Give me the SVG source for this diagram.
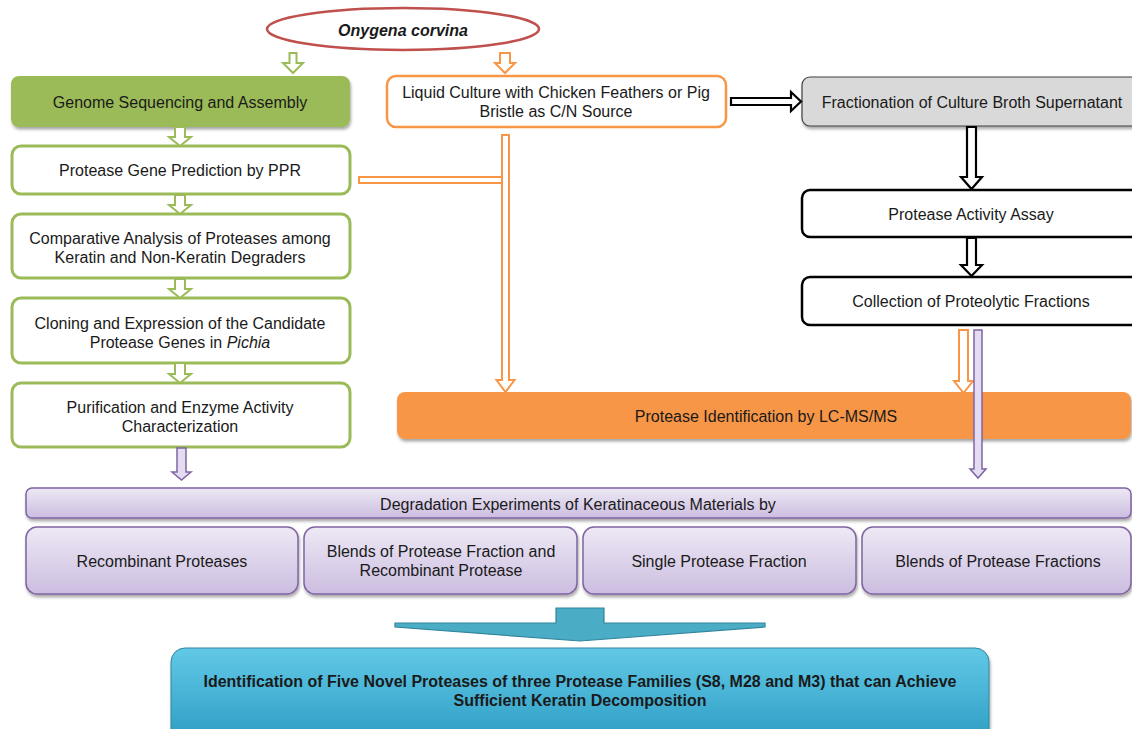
<svg xmlns="http://www.w3.org/2000/svg" width="1132" height="729" viewBox="0 0 1132 729">
<defs>
<style>
text{font-family:"Liberation Sans",Arial,sans-serif;font-size:16px;fill:#1a1a1a;text-anchor:middle;dominant-baseline:central}
.gbox{fill:#fff;stroke:#9BBB59;stroke-width:3}
.kbox{fill:#fff;stroke:#000;stroke-width:2.5}
.garr{fill:#fff;stroke:#9BBB59;stroke-width:2}
.oarr{fill:#fff;stroke:#F79646;stroke-width:2}
.karr{fill:#fff;stroke:#000;stroke-width:2.2}
.parr{fill:#E4DCF0;stroke:#8064A2;stroke-width:1.5}
.pbox{fill:url(#pg);stroke:#8064A2;stroke-width:1.5}
</style>
<filter id="sh" x="-5%" y="-20%" width="110%" height="150%">
<feDropShadow dx="1" dy="2.5" stdDeviation="1.8" flood-color="#000" flood-opacity="0.35"/>
</filter>
<linearGradient id="pg" x1="0" y1="0" x2="0" y2="1">
<stop offset="0" stop-color="#EEE9F5"/>
<stop offset="1" stop-color="#CBBDE0"/>
</linearGradient>
<linearGradient id="tg" x1="0" y1="0" x2="0" y2="1">
<stop offset="0" stop-color="#62C9E6"/>
<stop offset="1" stop-color="#2C9CC4"/>
</linearGradient>
</defs>

<g id="organism">
<ellipse cx="403" cy="29" rx="136" ry="21" fill="#fff" stroke="#C0504D" stroke-width="2.5"/>
<text x="403" y="30" font-weight="bold" font-style="italic">Onygena corvina</text>
</g>

<g id="genome">
<rect x="11" y="76" width="339" height="51" rx="8" fill="#9BBB59" filter="url(#sh)"/>
<text x="180" y="102">Genome Sequencing and Assembly</text>
</g>
<g id="ppr">
<rect x="12" y="146" width="338" height="48" rx="9" class="gbox"/>
<text x="180" y="170">Protease Gene Prediction by PPR</text>
</g>
<g id="comparative">
<rect x="12" y="214" width="338" height="64" rx="9" class="gbox"/>
<text x="180" y="238">Comparative Analysis of Proteases among</text>
<text x="180" y="257">Keratin and Non-Keratin Degraders</text>
</g>
<g id="cloning">
<rect x="12" y="298" width="338" height="65" rx="9" class="gbox"/>
<text x="180" y="323">Cloning and Expression of the Candidate</text>
<text x="180" y="342">Protease Genes in <tspan font-style="italic">Pichia</tspan></text>
</g>
<g id="purification">
<rect x="12" y="383" width="338" height="64" rx="9" class="gbox"/>
<text x="180" y="407">Purification and Enzyme Activity</text>
<text x="180" y="426">Characterization</text>
</g>

<g id="culture">
<rect x="387" y="76" width="339" height="51" rx="9" fill="#fff" stroke="#F79646" stroke-width="2.5"/>
<text x="556" y="92">Liquid Culture with Chicken Feathers or Pig</text>
<text x="556" y="111">Bristle as C/N Source</text>
</g>

<g id="fractionation">
<rect x="802" y="77" width="340" height="49" rx="8" fill="#D9D9D9" stroke="#404040" stroke-width="1.2" filter="url(#sh)"/>
<text x="972" y="102">Fractionation of Culture Broth Supernatant</text>
</g>
<g id="assay">
<rect x="802" y="190" width="340" height="47" rx="8" class="kbox"/>
<text x="971" y="214">Protease Activity Assay</text>
</g>
<g id="collection">
<rect x="802" y="277" width="340" height="48" rx="8" class="kbox"/>
<text x="971" y="301">Collection of Proteolytic Fractions</text>
</g>

<g id="connectors">
<polygon class="garr" points="289.5,53 296.5,53 296.5,63 303,63 293,73 283,63 289.5,63"/>
<polygon class="oarr" points="500,53 510,53 510,63 515,63 505,73 495,63 500,63"/>
<polygon class="garr" points="175,127 185,127 185,137 191,137 180,146 169,137 175,137"/>
<polygon class="garr" points="175,195 185,195 185,205 191,205 180,214 169,205 175,205"/>
<polygon class="garr" points="175,279 185,279 185,289 191,289 180,298 169,289 175,289"/>
<polygon class="garr" points="175,363 185,363 185,374 191,374 180,383 169,374 175,374"/>
<rect class="oarr" x="359" y="177" width="143" height="6"/>
<polygon class="oarr" points="502,135 509,135 509,380 514.5,380 505.5,392 496.5,380 502,380"/>
<polygon class="karr" points="731,98 791,98 791,92 801,101.5 791,111 791,105 731,105"/>
<polygon class="karr" points="967,127 976,127 976,177 982,177 971.5,189 961,177 967,177"/>
<polygon class="karr" points="967,238 976,238 976,265 982,265 971.5,276 961,265 967,265"/>
<polygon class="oarr" points="959,330 968,330 968,381 973,381 963.5,393 954,381 959,381"/>
</g>

<g id="identification">
<rect x="397" y="392" width="734" height="47" rx="8" fill="#F79646" filter="url(#sh)"/>
<text x="766" y="416">Protease Identification by LC-MS/MS</text>
</g>

<g id="connectors2">
<polygon class="parr" points="974,330 982,330 982,469 986,469 978,478 970,469 974,469"/>
<polygon class="parr" points="177,448 186,448 186,472 191,472 181.5,480 172,472 177,472"/>
</g>

<g id="degradation">
<rect x="26" y="488" width="1105" height="30" rx="6" class="pbox" filter="url(#sh)"/>
<text x="578" y="504">Degradation Experiments of Keratinaceous Materials by</text>
</g>
<g id="recombinant">
<rect x="26" y="527" width="272" height="67" rx="11" class="pbox" filter="url(#sh)"/>
<text x="162" y="561">Recombinant Proteases</text>
</g>
<g id="blend1">
<rect x="304" y="527" width="273" height="67" rx="11" class="pbox" filter="url(#sh)"/>
<text x="441" y="551">Blends of Protease Fraction and</text>
<text x="441" y="570">Recombinant Protease</text>
</g>
<g id="single">
<rect x="583" y="527" width="273" height="67" rx="11" class="pbox" filter="url(#sh)"/>
<text x="719" y="561">Single Protease Fraction</text>
</g>
<g id="blend2">
<rect x="862" y="527" width="269" height="67" rx="11" class="pbox" filter="url(#sh)"/>
<text x="998" y="561">Blends of Protease Fractions</text>
</g>

<g id="bigarrow">
<polygon points="556,608 604,608 604,623 765,623 765,627 580,641 395,627 395,623 556,623" fill="#4BACC6" stroke="#31859C" stroke-width="1.2"/>
</g>

<g id="result">
<rect x="171" y="648" width="818" height="95" rx="14" fill="url(#tg)" stroke="#31859C" stroke-width="1" filter="url(#sh)"/>
<text x="580" y="681" font-weight="bold" textLength="753" lengthAdjust="spacingAndGlyphs">Identification of Five Novel Proteases of three Protease Families (S8, M28 and M3) that can Achieve</text>
<text x="580" y="700" font-weight="bold" textLength="253" lengthAdjust="spacingAndGlyphs">Sufficient Keratin Decomposition</text>
</g>
</svg>
